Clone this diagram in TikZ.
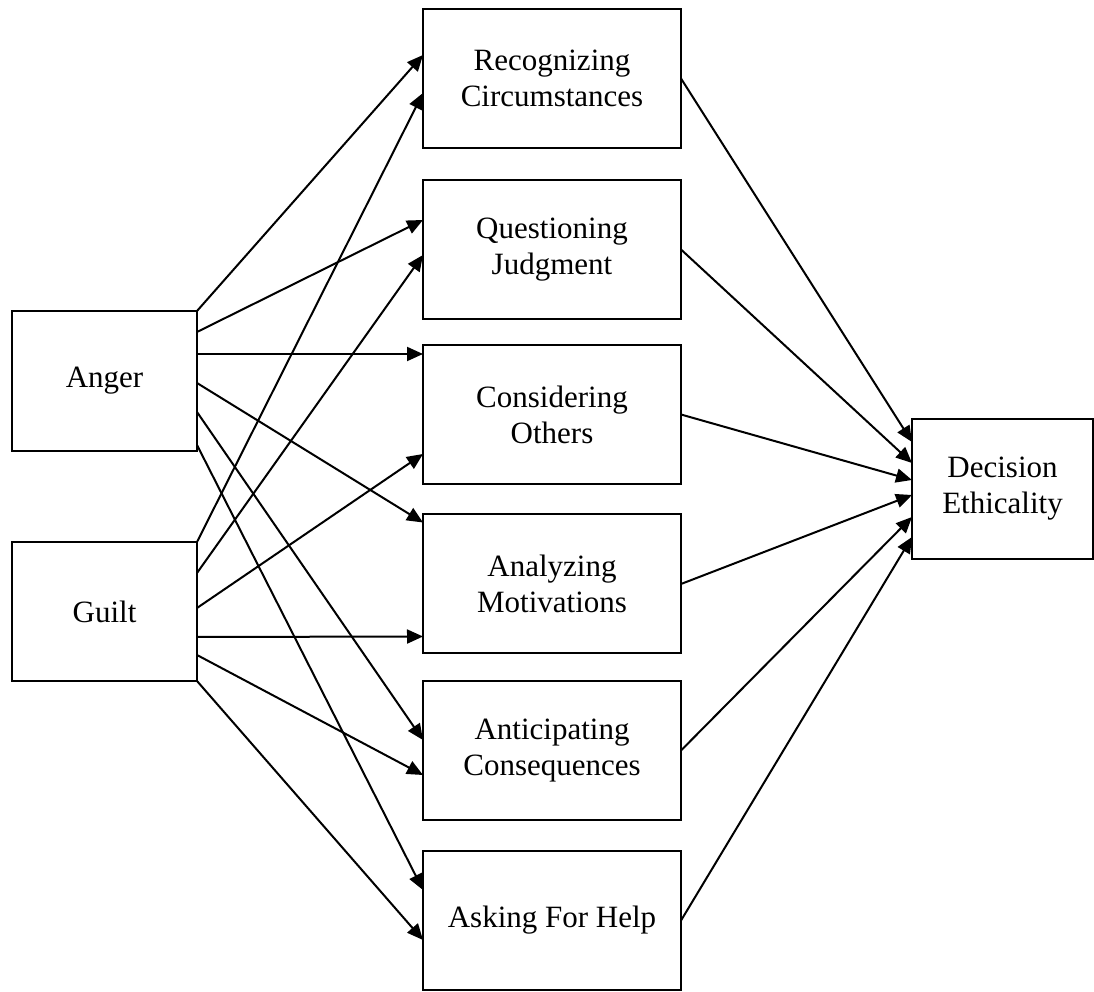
\documentclass[tikz,border=0pt]{standalone}
\usepackage{fontspec}
\setmainfont{Liberation Serif}
\usetikzlibrary{arrows.meta}
\begin{document}
\begin{tikzpicture}[x=1pt,y=1pt,
  box/.style={draw, line width=2pt, rectangle, outer sep=0pt, inner sep=2pt, align=center,
    font=\fontsize{31}{36}\selectfont},
  conn/.style={line width=2pt, -{Triangle[length=16pt,width=14pt]}}]
\useasboundingbox (0,0) rectangle (1094,991);
% left boxes
\node[box, minimum width=185, minimum height=140] (anger) at (104.5,610) {Anger};
\node[box, minimum width=185, minimum height=139] (guilt) at (104.5,379.5) {Guilt};
% middle boxes
\node[box, minimum width=258, minimum height=139] (rec) at (552,912.5) {Recognizing\\Circumstances};
\node[box, minimum width=258, minimum height=139] (que) at (552,741.5) {Questioning\\Judgment};
\node[box, minimum width=258, minimum height=139] (con) at (552,576.5) {Considering\\Others};
\node[box, minimum width=258, minimum height=139] (ana) at (552,407) {Analyzing\\Motivations};
\node[box, minimum width=258, minimum height=139] (ant) at (552,240.5) {Anticipating\\Consequences};
\node[box, minimum width=258, minimum height=139] (ask) at (552,70.5) {Asking For Help};
% right box
\node[box, minimum width=181, minimum height=140] (dec) at (1002.5,502) {Decision\\Ethicality};
% Anger arrows
\draw[conn] (anger.north east) -- ([yshift=-46]rec.north west);
\draw[conn] ([yshift=-21]anger.north east) -- ([yshift=-40]que.north west);
\draw[conn] ([yshift=-43]anger.north east) -- ([yshift=-9]con.north west);
\draw[conn] ([yshift=-72]anger.north east) -- ([yshift=-8]ana.north west);
\draw[conn] ([yshift=-101]anger.north east) -- ([yshift=-59]ant.north west);
\draw[conn] ([yshift=-134]anger.north east) -- ([yshift=-39]ask.north west);
% Guilt arrows
\draw[conn] (guilt.north east) -- ([yshift=-84]rec.north west);
\draw[conn] ([yshift=-31]guilt.north east) -- ([yshift=-75]que.north west);
\draw[conn] ([yshift=-66]guilt.north east) -- ([yshift=-109]con.north west);
\draw[conn] ([yshift=-95]guilt.north east) -- ([yshift=-122]ana.north west);
\draw[conn] ([yshift=-113]guilt.north east) -- ([yshift=-94]ant.north west);
\draw[conn] (guilt.south east) -- ([yshift=-89]ask.north west);
% to Decision
\draw[conn] (rec.east) -- ([yshift=-23]dec.north west);
\draw[conn] (que.east) -- ([yshift=-44]dec.north west);
\draw[conn] (con.east) -- ([yshift=-61]dec.north west);
\draw[conn] (ana.east) -- ([yshift=-76]dec.north west);
\draw[conn] (ant.east) -- ([yshift=-98]dec.north west);
\draw[conn] (ask.east) -- ([yshift=-118]dec.north west);
\end{tikzpicture}
\end{document}
